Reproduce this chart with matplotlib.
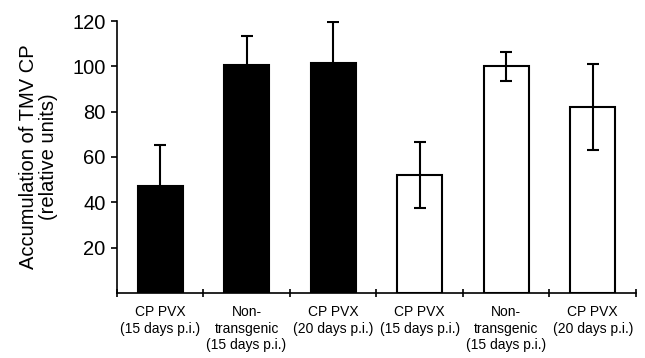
import matplotlib.pyplot as plt
import numpy as np

plt.rcParams['font.family'] = ['Liberation Sans', 'DejaVu Sans']

labels = ['CP PVX\n(15 days p.i.)', 'Non-\ntransgenic\n(15 days p.i.)', 'CP PVX\n(20 days p.i.)',
          'CP PVX\n(15 days p.i.)', 'Non-\ntransgenic\n(15 days p.i.)', 'CP PVX\n(20 days p.i.)']
values = [47, 100.5, 101.5, 52, 100, 82]
errors = [18.5, 13, 18, 14.5, 6.3, 19]
colors = ['black', 'black', 'black', 'white', 'white', 'white']

fig = plt.figure(figsize=(6.45, 3.58), dpi=100)
ax = fig.add_axes([0.181, 0.182, 0.805, 0.759])

x = np.arange(len(values))
ax.bar(x, values, width=0.52, color=colors, edgecolor='black', linewidth=1.5, zorder=2)
ax.errorbar(x, values, yerr=errors, fmt='none', ecolor='black', elinewidth=1.5,
            capsize=4, capthick=1.5, zorder=3)

ax.set_xlim(-0.5, len(values) - 0.5)
ax.set_ylim(0, 120)
ax.set_yticks([20, 40, 60, 80, 100, 120])
ax.tick_params(axis='y', labelsize=14.5, direction='out', length=4, width=1.2, pad=4)
ax.set_xticks(x)
ax.set_xticklabels(labels, fontsize=10, linespacing=1.2)
ax.tick_params(axis='x', length=0, pad=9)
ax.set_xticks(np.arange(-0.5, len(values)), minor=True)
ax.tick_params(axis='x', which='minor', direction='inout', length=6, width=1.2)

for s in ['top', 'right']:
    ax.spines[s].set_visible(False)
for s in ['left', 'bottom']:
    ax.spines[s].set_linewidth(1.2)

ax.set_ylabel('Accumulation of TMV CP\n(relative units)', fontsize=14.5, linespacing=1.1, labelpad=10)

fig.savefig('out.png', dpi=100)
